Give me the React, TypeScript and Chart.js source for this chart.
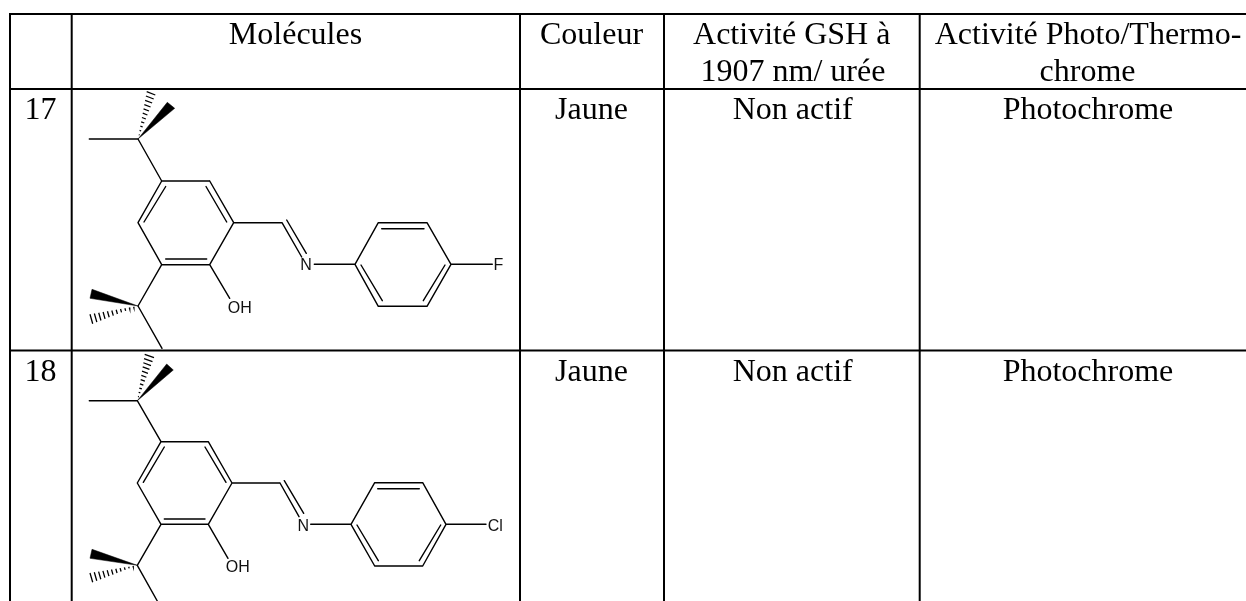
import React, { useEffect, useRef } from "react";
import { Chart, registerables } from "chart.js";

Chart.register(...registerables);

// [x1, y1, x2, y2]
const gridRules: number[][] = [
  [9, 14, 1246, 14],
  [9, 89, 1246, 89],
  [9, 350.5, 1246, 350.5],
  [10, 13, 10, 601],
  [71.7, 13, 71.7, 601],
  [520, 13, 520, 601],
  [664, 13, 664, 601],
  [919.7, 13, 919.7, 601],
];

const bonds17: number[][] = [
  [138, 139, 89.3, 139],
  [138, 139, 161.7, 181],
  [161.7, 181, 209.7, 181],
  [209.7, 181, 233.7, 222.7],
  [233.7, 222.7, 209.7, 264.7],
  [209.7, 264.7, 161.7, 264.7],
  [161.7, 264.7, 138, 222.7],
  [138, 222.7, 161.7, 181],
  [165.7, 186.5, 144, 222],
  [206, 186.5, 226.7, 222],
  [165.7, 259, 206.7, 259],
  [233.7, 222.7, 282, 222.7],
  [282, 222.7, 301.7, 257],
  [286.7, 220, 306.3, 253.3],
  [314.3, 264.3, 355, 264.3],
  [355, 264.3, 378.3, 222.7],
  [378.3, 222.7, 427, 222.7],
  [427, 222.7, 451, 264.3],
  [451, 264.3, 427, 306.3],
  [427, 306.3, 378.3, 306.3],
  [378.3, 306.3, 355, 264.3],
  [381.7, 228.7, 424, 228.7],
  [361, 265, 382.3, 300.7],
  [445, 265, 423.3, 300.7],
  [451, 264.3, 492.3, 264.3],
  [209.7, 264.7, 229.7, 298.3],
  [161.7, 264.7, 138, 306],
  [138, 306, 162, 348.3],
];

const bonds18: number[][] = [
  [137.3, 400.7, 89.3, 400.7],
  [137.3, 400.7, 161, 441.7],
  [161, 441.7, 208.3, 441.7],
  [208.3, 441.7, 232, 483],
  [232, 483, 208.3, 524.3],
  [208.3, 524.3, 161, 524.3],
  [161, 524.3, 137.3, 483],
  [137.3, 483, 161, 441.7],
  [164.3, 447, 143.3, 482.3],
  [205, 447, 226, 482.3],
  [164.3, 519, 205, 519],
  [232, 483, 280, 483],
  [280, 483, 299, 516.7],
  [284.3, 480.7, 303.7, 513.3],
  [310.7, 524.3, 351, 524.3],
  [351, 524.3, 374.7, 482.7],
  [374.7, 482.7, 422.7, 482.7],
  [422.7, 482.7, 446, 524.3],
  [446, 524.3, 422.7, 566],
  [422.7, 566, 374.7, 566],
  [374.7, 566, 351, 524.3],
  [377.7, 488.7, 419.3, 488.7],
  [357, 525, 378.3, 560.7],
  [440.7, 525, 419.3, 560.7],
  [446, 524.3, 486, 524.3],
  [208.3, 524.3, 228, 558.3],
  [161, 524.3, 137.3, 565.3],
  [137.3, 565.3, 157.3, 601],
];

// apex, corner, corner
const wedges: number[][] = [
  [138, 139, 167.3, 102.3, 174.7, 108.3],
  [138, 306, 92, 289.3, 90, 298.3],
  [137.3, 400.7, 166.7, 364, 173.3, 370],
  [137.3, 565.3, 92, 549.3, 90, 558.3],
];

// apex, end stripe's first point, end stripe's second point
const hashes: number[][] = [
  [138, 139, 146.7, 91.7, 155.3, 95],
  [138, 306, 90, 314.3, 92.7, 323.7],
  [137.3, 400.7, 144.7, 354.3, 154, 357.7],
  [137.3, 565.3, 90, 573, 92.7, 582.3],
];
const hashStripes = 11;

const headerCells = ["Molécules", "Couleur", "Activité GSH à", "1907 nm/ urée", "Activité Photo/Thermo-", "chrome"];
const headerAnchors: number[][] = [
  [295.5, 44],
  [591.5, 44],
  [791.7, 44],
  [793, 81],
  [1088, 44],
  [1087.5, 81],
];
const rowCells = ["17", "Jaune", "Non actif", "Photochrome", "18", "Jaune", "Non actif", "Photochrome"];
const rowAnchors: number[][] = [
  [40.5, 119],
  [591.5, 119],
  [792.7, 119],
  [1088, 119],
  [40.5, 381],
  [591.5, 381],
  [792.7, 381],
  [1088, 381],
];
const atomLabels = ["N", "F", "OH", "N", "Cl", "OH"];
const atomAnchors: number[][] = [
  [306, 265],
  [498.3, 265],
  [239.7, 307.3],
  [303.3, 525.5],
  [495.3, 525.7],
  [237.7, 566.3],
];

const segmentsToPoints = (segs: number[][]) =>
  segs.flatMap(([a, b, c, d]) => [
    { x: a, y: b },
    { x: c, y: d },
    { x: null as any, y: null as any },
  ]);

const hashSegments = hashes.flatMap(([ax, ay, p1x, p1y, p2x, p2y]) => {
  const out: number[][] = [];
  for (let i = 1; i <= hashStripes; i++) {
    const t = i / hashStripes;
    out.push([ax + (p1x - ax) * t, ay + (p1y - ay) * t, ax + (p2x - ax) * t, ay + (p2y - ay) * t]);
  }
  return out;
});

const textPlugin = {
  id: "tableText",
  afterDatasetsDraw(chart: any) {
    const { ctx, scales } = chart;
    const put = (labels: string[], anchors: number[][], font: string, colour: string) => {
      ctx.save();
      ctx.font = font;
      ctx.fillStyle = colour;
      ctx.textAlign = "center";
      ctx.textBaseline = "alphabetic";
      labels.forEach((t, i) => {
        ctx.fillText(t, scales.x.getPixelForValue(anchors[i][0]), scales.y.getPixelForValue(anchors[i][1]));
      });
      ctx.restore();
    };
    put(headerCells, headerAnchors, '32px "Liberation Serif"', "#000");
    put(rowCells, rowAnchors, '32px "Liberation Serif"', "#000");
    ctx.save();
    ctx.font = '16px "Liberation Sans"';
    ctx.fillStyle = "#111";
    ctx.textAlign = "center";
    ctx.textBaseline = "middle";
    atomLabels.forEach((t, i) => {
      ctx.fillText(t, scales.x.getPixelForValue(atomAnchors[i][0]), scales.y.getPixelForValue(atomAnchors[i][1]) + 1);
    });
    ctx.restore();
  },
};

export default function App() {
  const ref = useRef<HTMLCanvasElement | null>(null);

  useEffect(() => {
    document.body.style.margin = "0";
    document.body.style.overflow = "hidden";
    const stroke = { showLine: true, pointRadius: 0, borderColor: "#000", borderCapStyle: "round", spanGaps: false, fill: false };
    const chart = new Chart(ref.current as HTMLCanvasElement, {
      type: "scatter",
      data: {
        datasets: [
          { ...stroke, label: "Table", data: segmentsToPoints(gridRules), borderWidth: 2, borderCapStyle: "butt" },
          { ...stroke, label: "Molecule 17", data: segmentsToPoints(bonds17), borderWidth: 1.4 },
          { ...stroke, label: "Molecule 18", data: segmentsToPoints(bonds18), borderWidth: 1.4 },
          { ...stroke, label: "Hashed bonds", data: segmentsToPoints(hashSegments), borderWidth: 1.3, borderCapStyle: "butt" },
          ...wedges.map(([a, b, c, d, e, f], i) => ({
            ...stroke,
            label: `Wedge ${i + 1}`,
            data: [
              { x: a, y: b },
              { x: c, y: d },
              { x: e, y: f },
              { x: a, y: b },
            ],
            borderWidth: 0.5,
            backgroundColor: "#000",
            fill: "shape",
          })),
        ] as any,
      },
      options: {
        animation: false,
        responsive: false,
        devicePixelRatio: 1,
        layout: { padding: 0 },
        plugins: { legend: { display: false }, tooltip: { enabled: false }, title: { display: false } },
        scales: {
          x: { type: "linear", min: 0, max: 1246, display: false },
          y: { type: "linear", min: 0, max: 601, reverse: true, display: false },
        },
      } as any,
      plugins: [textPlugin],
    });
    return () => chart.destroy();
  }, []);

  return <canvas ref={ref} width={1246} height={601} style={{ display: "block", background: "#fff" }} />;
}
